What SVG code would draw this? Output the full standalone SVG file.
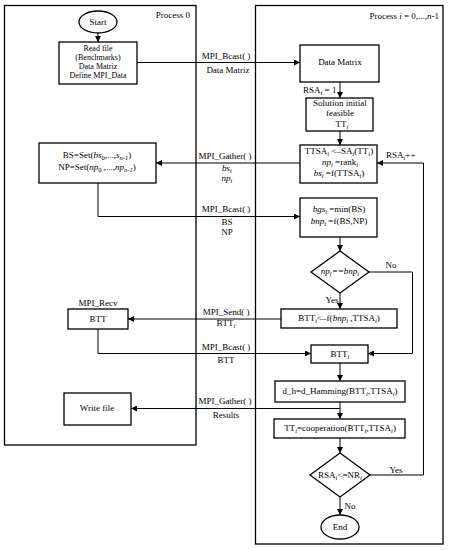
<svg xmlns="http://www.w3.org/2000/svg" width="451" height="550" viewBox="0 0 451 550">
<style>
.frame{fill:none;stroke:#000;stroke-width:1.3}
.box{fill:#fff;stroke:#000;stroke-width:1.3}
.ln{fill:none;stroke:#000;stroke-width:1}
text{font-family:"Liberation Serif","Times New Roman",serif;font-size:9px;fill:#000}
.m{text-anchor:middle}
.e{text-anchor:end}
.it{font-style:italic}
.s{font-size:6.5px;font-style:italic}
.sn{font-size:6.5px}
.sm{font-size:8px}
</style>
<defs>
<marker id="ah" markerWidth="6" markerHeight="6" refX="6" refY="3" orient="auto" markerUnits="userSpaceOnUse">
<path d="M0,0 L6,3 L0,6 Z" fill="#000"/>
</marker>
</defs>
<rect id="process0" class="frame" x="4.5" y="5.5" width="191.5" height="439.5"/>
<text x="190" y="18" class="e">Process 0</text>
<rect id="processi" class="frame" x="255.5" y="5.5" width="187.5" height="538.5"/>
<text x="439" y="19" class="e">Process <tspan class="it">i</tspan> = 0,...,<tspan class="it">n</tspan>-1</text>

<g id="connectors">
<path class="ln" d="M98,33 V42" marker-end="url(#ah)"/>
<path class="ln" d="M137,62.5 H300" marker-end="url(#ah)"/>
<path class="ln" d="M340,82 V98" marker-end="url(#ah)"/>
<path class="ln" d="M340,131 V145" marker-end="url(#ah)"/>
<path class="ln" d="M300,163 H156" marker-end="url(#ah)"/>
<path class="ln" d="M98,183 V216.5 H300" marker-end="url(#ah)"/>
<path class="ln" d="M340,237 V251" marker-end="url(#ah)"/>
<path class="ln" d="M340,293 V309" marker-end="url(#ah)"/>
<path class="ln" d="M369,272 H412.5 V353.5 H368" marker-end="url(#ah)"/>
<path class="ln" d="M281,319 H128" marker-end="url(#ah)"/>
<path class="ln" d="M98,329 V353.5 H311" marker-end="url(#ah)"/>
<path class="ln" d="M340,363 V381" marker-end="url(#ah)"/>
<path class="ln" d="M340,402 V419" marker-end="url(#ah)"/>
<path class="ln" d="M340,408.5 H131" marker-end="url(#ah)"/>
<path class="ln" d="M340,438 V453" marker-end="url(#ah)"/>
<path class="ln" d="M370,475 H423.5 V163 H377" marker-end="url(#ah)"/>
<path class="ln" d="M340,497 V515" marker-end="url(#ah)"/>
<text x="226" y="59" class="m">MPI_Bcast( )</text>
<text x="228" y="73" class="m">Data Matriz</text>
<text x="303" y="93">RSA<tspan class="s" dy="2">i</tspan><tspan dy="-2"> = 1</tspan></text>
<text x="225" y="159" class="m">MPI_Gather( )</text>
<text x="227" y="171" class="m it">bs<tspan class="s" dy="2">i</tspan></text>
<text x="227" y="181" class="m it">np<tspan class="s" dy="2">i</tspan></text>
<text x="226" y="212" class="m">MPI_Bcast( )</text>
<text x="227" y="225" class="m">BS</text>
<text x="227" y="235" class="m">NP</text>
<text x="386" y="158">RSA<tspan class="s" dy="2">i</tspan><tspan dy="-2">++</tspan></text>
<text x="391" y="268" class="m">No</text>
<text x="332" y="303" class="m">Yes</text>
<text x="226" y="315" class="m">MPI_Send( )</text>
<text x="226" y="326" class="m">BTT<tspan class="s" dy="2">i</tspan></text>
<text x="226" y="350" class="m">MPI_Bcast( )</text>
<text x="226" y="363" class="m">BTT</text>
<text x="225" y="404" class="m">MPI_Gather( )</text>
<text x="226" y="418" class="m">Results</text>
<text x="396" y="473" class="m">Yes</text>
<text x="350" y="509" class="m">No</text>
</g>

<g id="start">
<ellipse cx="98" cy="22" rx="19" ry="11" class="box"/>
<text x="98" y="25" class="m">Start</text>
</g>
<g id="readfile">
<rect x="59" y="42" width="78" height="42" class="box"/>
<text x="98" y="51" class="m sm">Read file</text>
<text x="98" y="60" class="m sm">(Benchmarks)</text>
<text x="98" y="69" class="m sm">Data Matriz</text>
<text x="98" y="78" class="m sm">Define MPI_Data</text>
</g>
<g id="datamatrix">
<rect x="300" y="45" width="79" height="37" class="box"/>
<text x="340" y="65" class="m">Data Matrix</text>
</g>
<g id="solution">
<rect x="306" y="98" width="67" height="33" class="box"/>
<text x="340" y="106" class="m">Solution initial</text>
<text x="340" y="116" class="m">feasible</text>
<text x="342" y="127" class="m">TT<tspan class="s" dy="2">i</tspan></text>
</g>
<g id="ttsa">
<rect x="300" y="145" width="77" height="38" class="box"/>
<text x="339" y="154" class="m">TTSA<tspan class="s" dy="2">i</tspan><tspan dy="-2"> &lt;–SA</tspan><tspan class="s" dy="2">i</tspan><tspan dy="-2">(TT</tspan><tspan class="s" dy="2">i</tspan><tspan dy="-2">)</tspan></text>
<text x="340" y="165" class="m"><tspan class="it">np</tspan><tspan class="s" dy="2">i</tspan><tspan dy="-2"> =rank</tspan><tspan class="s" dy="2">i</tspan></text>
<text x="339" y="176" class="m"><tspan class="it">bs</tspan><tspan class="s" dy="2">i</tspan><tspan dy="-2"> =f(TTSA</tspan><tspan class="s" dy="2">i</tspan><tspan dy="-2">)</tspan></text>
</g>
<g id="bsset">
<rect x="39" y="143" width="117" height="40" class="box"/>
<text x="97" y="158" class="m">BS=Set(<tspan class="it">bs</tspan><tspan class="sn" dy="2">0</tspan><tspan dy="-2">,...,</tspan><tspan class="it">s</tspan><tspan class="s" dy="2">n-1</tspan><tspan dy="-2">)</tspan></text>
<text x="97" y="170" class="m">NP=Set(<tspan class="it">np</tspan><tspan class="sn" dy="2">0</tspan><tspan dy="-2"> ,...,</tspan><tspan class="it">np</tspan><tspan class="s" dy="2">n-1</tspan><tspan dy="-2">)</tspan></text>
</g>
<g id="bgs">
<rect x="300" y="198" width="77" height="39" class="box"/>
<text x="339" y="212" class="m"><tspan class="it">bgs</tspan><tspan class="s" dy="2">i</tspan><tspan dy="-2"> =min(BS)</tspan></text>
<text x="339" y="224" class="m"><tspan class="it">bnp</tspan><tspan class="s" dy="2">i</tspan><tspan dy="-2"> =f(BS,NP)</tspan></text>
</g>
<g id="decision1">
<polygon points="340,251 369,272 340,293 311,272" class="box"/>
<text x="340" y="274" class="m it">np<tspan class="s" dy="2">i</tspan><tspan dy="-2">==bnp</tspan><tspan class="s" dy="2">i</tspan></text>
</g>
<g id="bttf">
<rect x="281" y="309" width="116" height="19" class="box"/>
<text x="339" y="321" class="m">BTT<tspan class="s" dy="2">i</tspan><tspan dy="-2">&lt;–f(</tspan><tspan class="it">bnp</tspan><tspan class="s" dy="2">i</tspan><tspan dy="-2"> ,TTSA</tspan><tspan class="s" dy="2">i</tspan><tspan dy="-2">)</tspan></text>
</g>
<g id="recv">
<text x="98" y="306" class="m">MPI_Recv</text>
<rect x="68" y="309" width="60" height="20" class="box"/>
<text x="98" y="322" class="m">BTT</text>
</g>
<g id="btti">
<rect x="311" y="345" width="57" height="18" class="box"/>
<text x="340" y="357" class="m">BTT<tspan class="s" dy="2">i</tspan></text>
</g>
<g id="dh">
<rect x="275" y="381" width="130" height="21" class="box"/>
<text x="340" y="394" class="m">d_h=d_Hamming(BTT<tspan class="s" dy="2">i</tspan><tspan dy="-2">,TTSA</tspan><tspan class="s" dy="2">i</tspan><tspan dy="-2">)</tspan></text>
</g>
<g id="writefile">
<rect x="64" y="393" width="67" height="32" class="box"/>
<text x="97" y="411" class="m">Write file</text>
</g>
<g id="coop">
<rect x="274" y="419" width="131" height="19" class="box"/>
<text x="340" y="431" class="m">TT<tspan class="s" dy="2">i</tspan><tspan dy="-2">=cooperation(BTT</tspan><tspan class="s" dy="2">i</tspan><tspan dy="-2">,TTSA</tspan><tspan class="s" dy="2">i</tspan><tspan dy="-2">)</tspan></text>
</g>
<g id="decision2">
<polygon points="340,453 370,475 340,497 310,475" class="box"/>
<text x="340" y="478" class="m">RSA<tspan class="s" dy="2">i</tspan><tspan dy="-2">&lt;=NR</tspan><tspan class="s" dy="2">i</tspan></text>
</g>
<g id="end">
<ellipse cx="340" cy="527" rx="19" ry="12" class="box"/>
<text x="340" y="530" class="m">End</text>
</g>
</svg>
